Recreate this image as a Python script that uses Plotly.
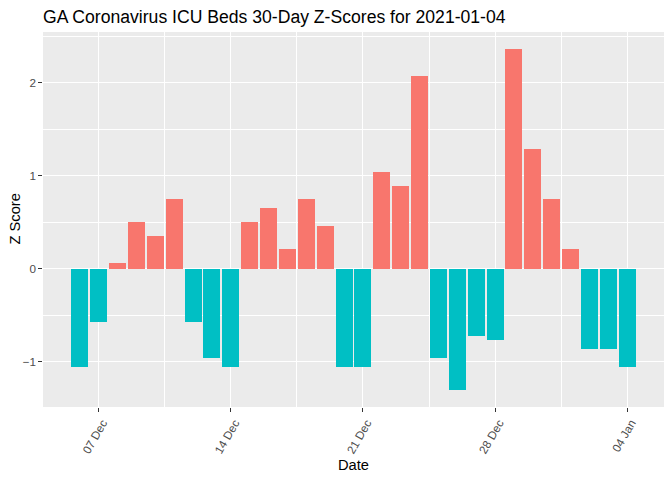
import plotly.graph_objects as go

dates = ["2020-12-06", "2020-12-07", "2020-12-08", "2020-12-09", "2020-12-10",
         "2020-12-11", "2020-12-12", "2020-12-13", "2020-12-14", "2020-12-15",
         "2020-12-16", "2020-12-17", "2020-12-18", "2020-12-19", "2020-12-20",
         "2020-12-21", "2020-12-22", "2020-12-23", "2020-12-24", "2020-12-25",
         "2020-12-26", "2020-12-27", "2020-12-28", "2020-12-29", "2020-12-30",
         "2020-12-31", "2021-01-01", "2021-01-02", "2021-01-03", "2021-01-04"]
z_scores = [-1.054, -0.57, 0.065, 0.505, 0.355,
            0.753, -0.57, -0.957, -1.054, 0.505,
            0.656, 0.215, 0.753, 0.462, -1.054,
            -1.054, 1.043, 0.892, 2.075, -0.957,
            -1.301, -0.72, -0.763, 2.366, 1.29,
            0.753, 0.215, -0.86, -0.86, -1.054]
x_tick_vals = ["2020-12-07", "2020-12-14", "2020-12-21", "2020-12-28", "2021-01-04"]
y_tick_vals = [-1, 0, 1, 2]

POS = "#F8766D"
NEG = "#00BFC4"
colors = [POS if v > 0 else NEG for v in z_scores]
DAY = 86400000

fig = go.Figure(go.Bar(
    x=dates, y=z_scores, width=[0.9 * DAY] * len(dates),
    marker=dict(color=colors, line=dict(width=0)),
    showlegend=False,
))

# page body has an 8px margin; offsets compensate for it
fig.update_layout(
    width=672, height=480,
    margin=dict(l=35, r=16, t=24, b=81, autoexpand=False),
    paper_bgcolor="white", plot_bgcolor="#EBEBEB",
    font=dict(family="Liberation Sans, Arial, sans-serif", color="#4D4D4D"),
    title=dict(text="GA Coronavirus ICU Beds 30-Day Z-Scores for 2021-01-04",
               font=dict(size=17.6, color="black"),
               xref="paper", x=0, xanchor="left",
               yref="container", y=1 - 8.5 / 480, yanchor="middle"),
    bargap=0,
)

fig.update_xaxes(
    type="date", automargin=False,
    range=["2020-12-04 01:12", "2021-01-05 22:48"],
    tickmode="array", tickvals=x_tick_vals, tickformat="%d %b",
    tickangle=-60, tickfont=dict(size=11.7, color="#4D4D4D"),
    ticklabelshift=4,
    ticks="outside", ticklen=3.6, tickwidth=1.07, tickcolor="#333333",
    showgrid=True, gridcolor="white", gridwidth=1.07,
    minor=dict(tickmode="array",
               tickvals=["2020-12-10 12:00", "2020-12-17 12:00", "2020-12-24 12:00", "2020-12-31 12:00"],
               showgrid=True, gridcolor="white", gridwidth=0.53, ticks=""),
    zeroline=False, showline=False,
)
fig.update_yaxes(
    automargin=False,
    range=[-1.484, 2.548],
    tickmode="array", tickvals=y_tick_vals,
    tickfont=dict(size=11.7, color="#4D4D4D"),
    ticks="outside", ticklen=3.6, tickwidth=1.07, tickcolor="#333333",
    showgrid=True, gridcolor="white", gridwidth=1.07,
    minor=dict(tickmode="array", tickvals=[-0.5, 0.5, 1.5, 2.5],
               showgrid=True, gridcolor="white", gridwidth=0.53, ticks=""),
    zeroline=False, showline=False,
)

fig.add_annotation(text="Date", xref="paper", yref="paper", x=0.5, y=0,
                   yshift=-(465 - 407), xanchor="center", yanchor="middle",
                   showarrow=False, font=dict(size=14.7, color="black"))
fig.add_annotation(text="Z Score", xref="paper", yref="paper", x=0, y=0.5,
                   xshift=-(43 - 14), xanchor="center", yanchor="middle",
                   textangle=-90, showarrow=False, font=dict(size=14.7, color="black"))

fig.write_html("out.html")
